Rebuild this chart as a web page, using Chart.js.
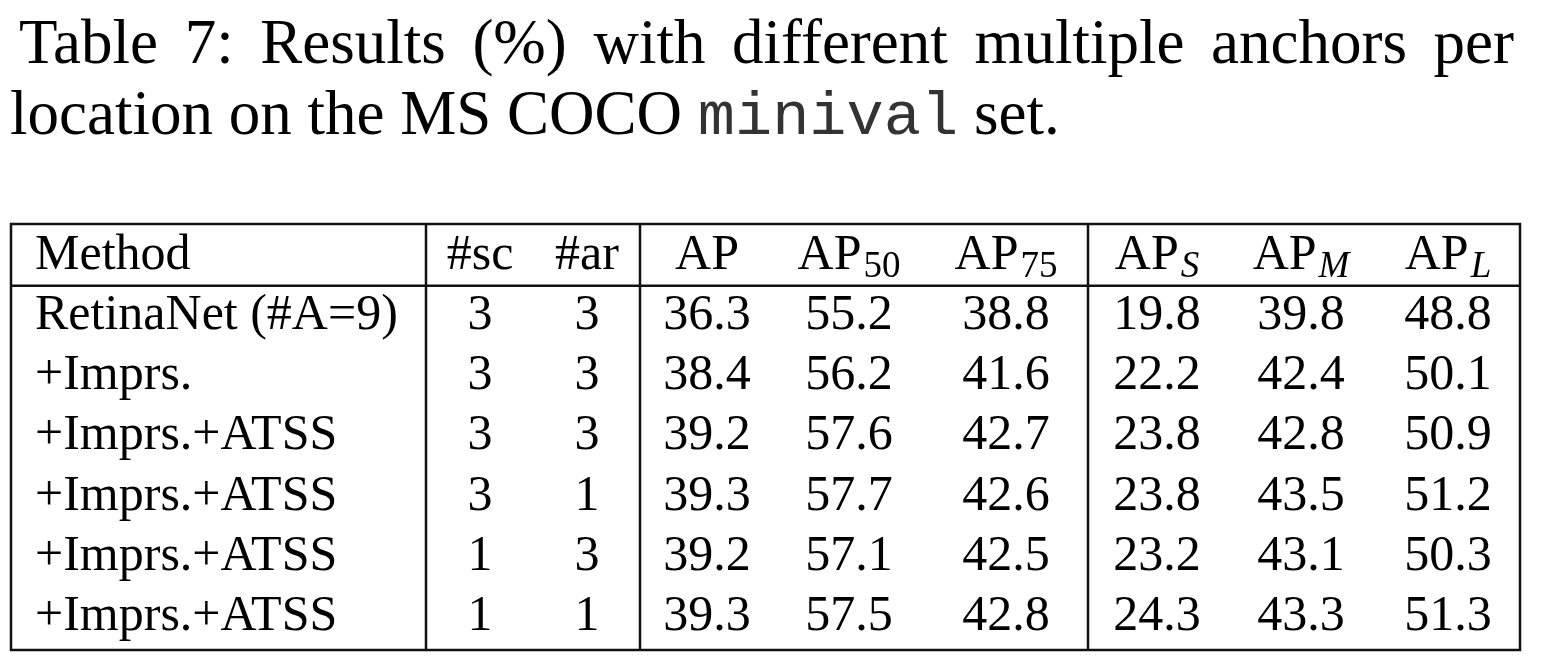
<!DOCTYPE html>
<html>
<head>
<meta charset="UTF-8">
<title>Table 7</title>
<script src="https://cdn.jsdelivr.net/npm/chart.js@4.4.0/dist/chart.umd.min.js"></script>
<style>
	body { margin: 0; background: #fff; }
</style>
</head>
<body>
	<canvas id="myChart" width="1544" height="672"></canvas>

	<script>
		// caption text
		let captionLine1 = ['Table', '7:', 'Results', '(%)', 'with', 'different', 'multiple', 'anchors', 'per'];
		let captionLine2 = ['location on the MS COCO ', 'minival', ' set.'];

		// table contents
		let methods = ['RetinaNet (#A=9)', '+Imprs.', '+Imprs.+ATSS', '+Imprs.+ATSS', '+Imprs.+ATSS', '+Imprs.+ATSS'];
		let numScales = [3, 3, 3, 3, 1, 1];
		let numRatios = [3, 3, 3, 1, 3, 1];
		let ap   = [36.3, 38.4, 39.2, 39.3, 39.2, 39.3];
		let ap50 = [55.2, 56.2, 57.6, 57.7, 57.1, 57.5];
		let ap75 = [38.8, 41.6, 42.7, 42.6, 42.5, 42.8];
		let apS  = [19.8, 22.2, 23.8, 23.8, 23.2, 24.3];
		let apM  = [39.8, 42.4, 42.8, 43.5, 43.1, 43.3];
		let apL  = [48.8, 50.1, 50.9, 51.2, 50.3, 51.3];
		// header: main text, subscript, subscript italic?
		let headers = [['Method'], ['#sc'], ['#ar'], ['AP'], ['AP', '50'], ['AP', '75'], ['AP', 'S', true], ['AP', 'M', true], ['AP', 'L', true]];
	</script>

	<script>
		// column widths (x-scale units) and where the vertical rules go
		let colWidths = [415, 108, 106, 134, 150, 164, 138, 150, 144];
		let ruleAfter = [0, 2, 5];
		let methodPad = 24;
		let headerRule = 0.56; // y value (between header row 0 and row 1)

		let colStart = [];
		let acc = 0;
		colWidths.forEach(function(w) { colStart.push(acc); acc += w; });
		let totalWidth = acc;

		let columns = [methods, numScales, numRatios, ap, ap50, ap75, apS, apM, apL];
		let points = [];
		headers.forEach(function(h, c) {
			points.push({ x: c == 0 ? colStart[c] + methodPad : colStart[c] + colWidths[c] / 2, y: 0, head: h, col: c });
		});
		methods.forEach(function(m, r) {
			columns.forEach(function(arr, c) {
				let v = arr[r];
				let txt = (c >= 3) ? v.toFixed(1) : String(v);
				points.push({ x: c == 0 ? colStart[c] + methodPad : colStart[c] + colWidths[c] / 2, y: r + 1, text: txt, col: c });
			});
		});

		const SERIF = '"Liberation Serif", "Times New Roman", serif';
		const MONO = '"Liberation Mono", "Courier New", monospace';

		let tablePlugin = {
			id: 'tableDraw',
			afterDatasetsDraw: function(chart) {
				let ctx = chart.ctx;
				let area = chart.chartArea;
				let xs = chart.scales.x;
				let ys = chart.scales.y;
				ctx.save();
				ctx.fillStyle = '#000';
				ctx.strokeStyle = '#111';
				ctx.lineWidth = 2.5;

				// caption line 1 (justified)
				ctx.font = '63px ' + SERIF;
				ctx.textBaseline = 'alphabetic';
				ctx.textAlign = 'left';
				let wordsW = 0;
				captionLine1.forEach(function(w) { wordsW += ctx.measureText(w).width; });
				let gap = (1515 - 20 - wordsW) / (captionLine1.length - 1);
				let cx = 19;
				captionLine1.forEach(function(w) {
					ctx.fillText(w, cx, 63);
					cx += ctx.measureText(w).width + gap;
				});
				// caption line 2
				cx = 10;
				captionLine2.forEach(function(w, i) {
					ctx.font = (i == 1 ? '62px ' + MONO : '63px ' + SERIF);
					ctx.fillStyle = (i == 1 ? '#333' : '#000');
					ctx.fillText(w, cx, 134);
					cx += ctx.measureText(w).width;
				});
				ctx.fillStyle = '#000';

				// box and rules
				ctx.strokeRect(area.left, area.top, area.right - area.left, area.bottom - area.top);
				let hy = ys.getPixelForValue(headerRule);
				ctx.beginPath();
				ctx.moveTo(area.left, hy);
				ctx.lineTo(area.right, hy);
				ruleAfter.forEach(function(c) {
					let px = xs.getPixelForValue(colStart[c] + colWidths[c]);
					ctx.moveTo(px, area.top);
					ctx.lineTo(px, area.bottom);
				});
				ctx.stroke();

				// cells
				let meta = chart.getDatasetMeta(0);
				meta.data.forEach(function(el, i) {
					let p = points[i];
					let y = el.y + 17;
					if (p.head) {
						let main = p.head[0], sub = p.head[1], ital = p.head[2];
						ctx.font = '50px ' + SERIF;
						let mw = ctx.measureText(main).width;
						let sw = 0;
						let subFont = (ital ? 'italic ' : '') + '37px ' + SERIF;
						if (sub) {
							ctx.font = subFont;
							sw = ctx.measureText(sub).width + 2;
						}
						let x0 = p.col == 0 ? el.x : el.x - (mw + sw) / 2;
						ctx.textAlign = 'left';
						ctx.font = '50px ' + SERIF;
						ctx.fillText(main, x0, y);
						if (sub) {
							ctx.font = subFont;
							ctx.fillText(sub, x0 + mw + 2, y + 8);
						}
					} else {
						ctx.font = '50px ' + SERIF;
						ctx.textAlign = p.col == 0 ? 'left' : 'center';
						ctx.fillText(p.text, el.x, y);
					}
				});
				ctx.restore();
			}
		};

		new Chart('myChart', {
			type: 'scatter',
			data: {
				datasets: [{
					data: points,
					pointRadius: 0,
					pointHoverRadius: 0
				}]
			},
			options: {
				responsive: false,
				animation: false,
				devicePixelRatio: 1,
				layout: { padding: { left: 11, right: 24, top: 224, bottom: 22 } },
				plugins: { legend: { display: false }, tooltip: { enabled: false } },
				events: [],
				scales: {
					x: { type: 'linear', min: 0, max: totalWidth, display: false },
					y: { type: 'linear', reverse: true, min: -0.465, max: 6.615, display: false }
				}
			},
			plugins: [tablePlugin]
		});
	</script>
</body>
</html>
